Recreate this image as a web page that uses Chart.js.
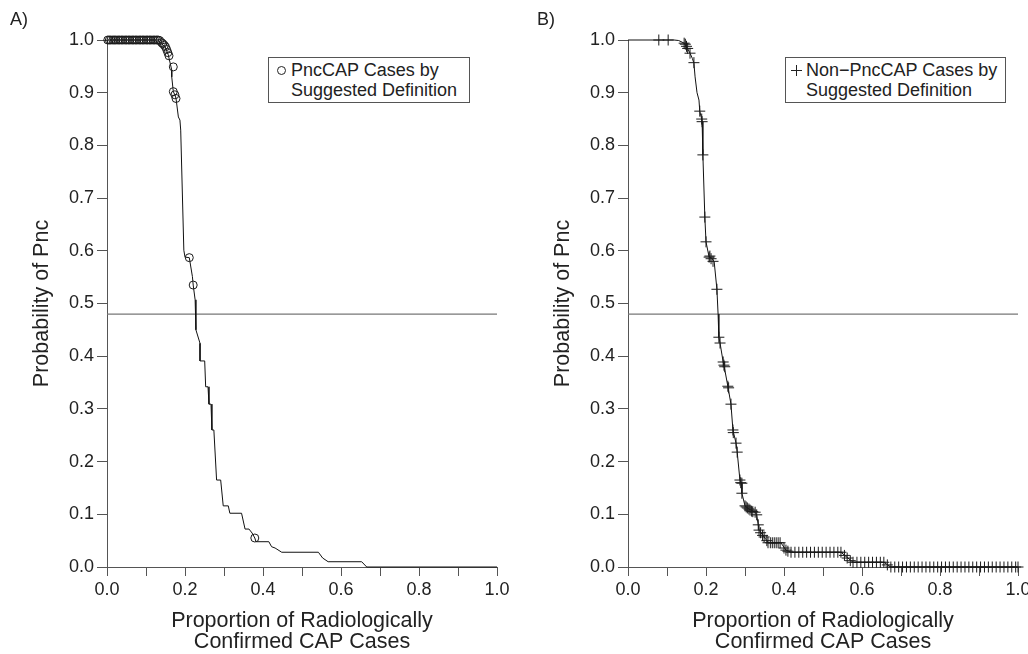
<!DOCTYPE html>
<html>
<head>
<meta charset="utf-8">
<script src="https://cdn.jsdelivr.net/npm/chart.js@4.4.0/dist/chart.umd.min.js"></script>
<style>
  html, body { margin: 0; padding: 0; background: #fff; overflow: hidden; }
  body { width: 1028px; height: 654px; position: relative; font-family: "Liberation Sans", Arial, sans-serif; color: #222; }
  canvas { position: absolute; top: 0; }
  #chartA { left: 0; }
  #chartB { left: 514px; }
  .tag { position: absolute; top: 9px; font-size: 18px; line-height: 20px; }
  .legend-box { position: absolute; top: 57px; height: 40px; padding: 2px 0; border: 1px solid #555; background: #fff; font-size: 18px; line-height: 20px; white-space: nowrap; }
  .sym-circle { position: absolute; width: 7px; height: 7px; border: 1px solid #222; border-radius: 50%; }
  .sym-cross { position: absolute; width: 11px; height: 11px; }
  .sym-cross::before { content: ""; position: absolute; left: 0; top: 5px; width: 11px; height: 1px; background: #222; }
  .sym-cross::after { content: ""; position: absolute; left: 5px; top: 0; width: 1px; height: 11px; background: #222; }
</style>
</head>
<body>
<canvas id="chartA" width="514" height="654"></canvas>
<canvas id="chartB" width="526" height="654"></canvas>

<div class="tag" style="left:10px">A)</div>
<div class="tag" style="left:537px">B)</div>

<div class="legend-box" style="left:268px; width:178px; padding-left:22px">
  <span class="sym-circle" style="left:8px; top:8px"></span>
  PncCAP Cases by<br>Suggested Definition
</div>
<div class="legend-box" style="left:785px; width:199px; padding-left:20px">
  <span class="sym-cross" style="left:5px; top:7px"></span>
  Non&minus;PncCAP Cases by<br>Suggested Definition
</div>

<script>
// axis text
const xTitle = ['Proportion of Radiologically', 'Confirmed CAP Cases'];
const yTitle = 'Probability of Pnc';
const xTickLabels = ['0.0', '0.2', '0.4', '0.6', '0.8', '1.0'];
const yTickLabels = ['0.0', '0.1', '0.2', '0.3', '0.4', '0.5', '0.6', '0.7', '0.8', '0.9', '1.0'];

// horizontal reference line (probability cut-off)
const cutoff = 0.48;

// Panel A - curve [proportion, probability]
const curveA = [
  [0, 1], [0.13, 1], [0.14, 0.993], [0.149, 0.987], [0.157, 0.972], [0.166, 0.943],
  [0.166, 0.93], [0.17, 0.902], [0.174, 0.896], [0.177, 0.889], [0.183, 0.854],
  [0.187, 0.848], [0.189, 0.829], [0.197, 0.601], [0.2, 0.588], [0.211, 0.587],
  [0.219, 0.551], [0.221, 0.535], [0.226, 0.507], [0.228, 0.45], [0.2385, 0.4245],
  [0.2385, 0.391], [0.2505, 0.391], [0.253, 0.342], [0.259, 0.342], [0.2615, 0.309],
  [0.2667, 0.309], [0.269, 0.26], [0.274, 0.26], [0.281, 0.165], [0.2915, 0.165],
  [0.298, 0.116], [0.311, 0.116], [0.315, 0.102], [0.345, 0.102], [0.354, 0.072],
  [0.364, 0.072], [0.372, 0.0645], [0.379, 0.055], [0.382, 0.048], [0.415, 0.048],
  [0.422, 0.0385], [0.431, 0.036], [0.448, 0.028], [0.542, 0.028], [0.553, 0.017],
  [0.567, 0.01], [0.653, 0.01], [0.666, 0], [1, 0]
];

// Panel A - PncCAP cases (circles)
const casesA = [
  [0.002, 1], [0.006, 1], [0.01, 1], [0.015, 1], [0.019, 1], [0.023, 1], [0.028, 1],
  [0.032, 1], [0.037, 1], [0.041, 1], [0.046, 1], [0.05, 1], [0.055, 1], [0.059, 1],
  [0.064, 1], [0.068, 1], [0.073, 1], [0.077, 1], [0.082, 1], [0.086, 1], [0.091, 1],
  [0.095, 1], [0.1, 1], [0.104, 1], [0.109, 1], [0.113, 1], [0.118, 1], [0.122, 1],
  [0.127, 1], [0.131, 1], [0.135, 0.999], [0.14, 0.995], [0.143, 0.993], [0.147, 0.99],
  [0.15, 0.987], [0.153, 0.982], [0.156, 0.976], [0.159, 0.97], [0.17, 0.949],
  [0.17, 0.902], [0.174, 0.896], [0.177, 0.889], [0.211, 0.587], [0.221, 0.535],
  [0.379, 0.055]
];

// Panel B - curve
const curveB = [
  [0, 1], [0.118, 1], [0.13, 0.999], [0.144, 0.994], [0.152, 0.985], [0.159, 0.975],
  [0.165, 0.965], [0.169, 0.956], [0.172, 0.93], [0.177, 0.9], [0.182, 0.886],
  [0.184, 0.865], [0.189, 0.85], [0.19, 0.845], [0.192, 0.782], [0.197, 0.664],
  [0.2, 0.617], [0.208, 0.588], [0.215, 0.586], [0.221, 0.579], [0.228, 0.527],
  [0.231, 0.48], [0.233, 0.436], [0.236, 0.425], [0.244, 0.389], [0.246, 0.383],
  [0.256, 0.343], [0.264, 0.309], [0.269, 0.26], [0.277, 0.235], [0.28, 0.218],
  [0.287, 0.165], [0.292, 0.159], [0.292, 0.14], [0.3, 0.116], [0.31, 0.11],
  [0.326, 0.104], [0.33, 0.099], [0.336, 0.07], [0.349, 0.057], [0.356, 0.05],
  [0.359, 0.046], [0.392, 0.046], [0.405, 0.032], [0.418, 0.028], [0.546, 0.028],
  [0.577, 0.009], [0.656, 0.009], [0.674, 0], [1, 0]
];

// Panel B - Non-PncCAP cases (crosses)
const casesB = [
  [0.079, 1], [0.103, 1], [0.144, 0.994], [0.147, 0.992], [0.15, 0.988], [0.153, 0.984],
  [0.159, 0.975], [0.169, 0.957], [0.184, 0.865], [0.189, 0.85], [0.19, 0.845],
  [0.192, 0.782], [0.197, 0.664], [0.2, 0.617], [0.208, 0.588], [0.21, 0.59],
  [0.213, 0.585], [0.218, 0.58], [0.228, 0.527], [0.233, 0.436], [0.236, 0.425],
  [0.244, 0.389], [0.246, 0.383], [0.248, 0.38], [0.256, 0.343], [0.258, 0.34],
  [0.264, 0.309], [0.269, 0.26], [0.27, 0.255], [0.277, 0.235], [0.28, 0.218],
  [0.287, 0.165], [0.289, 0.16], [0.292, 0.159], [0.292, 0.14], [0.3, 0.116],
  [0.303, 0.114], [0.306, 0.112], [0.31, 0.11], [0.313, 0.108], [0.317, 0.106],
  [0.32, 0.105], [0.326, 0.104], [0.33, 0.099], [0.334, 0.08], [0.336, 0.07],
  [0.34, 0.065], [0.345, 0.06], [0.349, 0.057], [0.356, 0.05], [0.359, 0.046],
  [0.365, 0.046], [0.37, 0.046], [0.375, 0.046], [0.38, 0.046], [0.385, 0.046],
  [0.39, 0.046], [0.4, 0.036], [0.405, 0.032], [0.41, 0.03], [0.418, 0.028],
  [0.428, 0.028], [0.438, 0.028], [0.448, 0.028], [0.458, 0.028], [0.468, 0.028],
  [0.478, 0.028], [0.488, 0.028], [0.498, 0.028], [0.508, 0.028], [0.518, 0.028],
  [0.528, 0.028], [0.538, 0.028], [0.546, 0.028], [0.555, 0.022], [0.562, 0.017],
  [0.57, 0.012], [0.577, 0.009], [0.587, 0.009], [0.597, 0.009], [0.607, 0.009],
  [0.617, 0.009], [0.627, 0.009], [0.637, 0.009], [0.647, 0.009], [0.656, 0.009],
  [0.665, 0.004], [0.674, 0], [0.684, 0], [0.694, 0], [0.704, 0], [0.714, 0], [0.724, 0],
  [0.734, 0], [0.744, 0], [0.754, 0], [0.764, 0], [0.774, 0], [0.784, 0], [0.794, 0],
  [0.804, 0], [0.814, 0], [0.824, 0], [0.834, 0], [0.844, 0], [0.854, 0], [0.864, 0],
  [0.874, 0], [0.884, 0], [0.894, 0], [0.904, 0], [0.914, 0], [0.924, 0], [0.934, 0],
  [0.944, 0], [0.954, 0], [0.964, 0], [0.974, 0], [0.984, 0], [0.994, 0], [1, 0]
];

const FONT = '"Liberation Sans", Arial, sans-serif';
const toXY = arr => arr.map(p => ({ x: p[0], y: p[1] }));

function makeChart(id, curve, cases, markStyle, axisLeft, titlePad, rightPad) {
  const marks = {
    data: toXY(cases),
    showLine: false,
    pointStyle: markStyle,
    pointRadius: markStyle === 'circle' ? 4 : 5.5,
    pointBorderWidth: 1,
    pointBorderColor: '#1a1a1a',
    pointBackgroundColor: 'rgba(0,0,0,0)',
    clip: false
  };
  const line = {
    data: toXY(curve),
    showLine: true,
    pointRadius: 0,
    borderColor: '#111',
    borderWidth: 1,
    clip: false
  };
  const ref = {
    data: [{ x: 0, y: cutoff }, { x: 1, y: cutoff }],
    showLine: true,
    pointRadius: 0,
    borderColor: '#777',
    borderWidth: 1.2
  };

  return new Chart(document.getElementById(id), {
    type: 'scatter',
    data: { datasets: [marks, line, ref] },
    options: {
      responsive: false,
      animation: false,
      layout: { padding: { top: 40, right: rightPad, bottom: 0, left: 0 } },
      plugins: { legend: { display: false }, tooltip: { enabled: false } },
      scales: {
        x: {
          type: 'linear', min: 0, max: 1,
          afterFit: s => { s.height = 87; },
          ticks: {
            stepSize: 0.1, autoSkip: false, maxRotation: 0, padding: 3,
            color: '#222', font: { family: FONT, size: 18 },
            callback: (v, i) => (i % 2 === 0 ? xTickLabels[i / 2] : '')
          },
          grid: { drawOnChartArea: false, drawTicks: true, tickLength: 9, color: '#555' },
          border: { color: '#555' },
          title: {
            display: true, text: xTitle, color: '#222',
            font: { family: FONT, size: 21.5, lineHeight: 0.98 },
            padding: { top: 0, bottom: 1 }
          }
        },
        y: {
          type: 'linear', min: 0, max: 1,
          afterFit: s => { s.width = axisLeft; },
          ticks: {
            stepSize: 0.1, autoSkip: false, padding: 3,
            color: '#222', font: { family: FONT, size: 18 },
            callback: (v, i) => yTickLabels[i]
          },
          grid: { drawOnChartArea: false, drawTicks: true, tickLength: 10, color: '#555' },
          border: { color: '#555' },
          title: {
            display: true, text: yTitle, color: '#222',
            font: { family: FONT, size: 21.5, lineHeight: 1.2 },
            padding: { top: titlePad, bottom: 0 }
          }
        }
      }
    }
  });
}

makeChart('chartA', curveA, casesA, 'circle', 107, 29, 17);
makeChart('chartB', curveB, casesB, 'cross', 114, 36, 22);
</script>
</body>
</html>
